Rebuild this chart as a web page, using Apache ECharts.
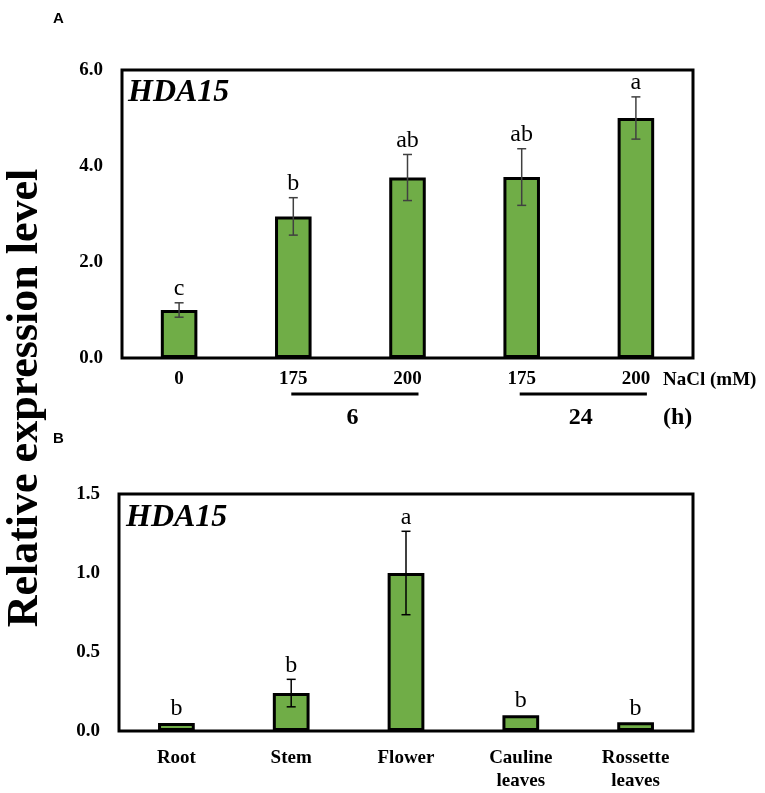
<!DOCTYPE html>
<html><head><meta charset="utf-8">
<script src="https://cdn.jsdelivr.net/npm/echarts@6/dist/echarts.min.js"></script>
<style>html,body{margin:0;padding:0;background:#fff}#c{width:765px;height:793px}</style>
</head><body><div id="c"></div>
<script>
// ---- data ----
const concLabels = ['0', '175', '200', '175', '200'];
const valuesA = [1.0, 2.95, 3.76, 3.77, 5.0];
const errA = [0.15, 0.39, 0.48, 0.59, 0.44];
const lettersA = ['c', 'b', 'ab', 'ab', 'a'];
const hourGroups = [{label: '6', from: 1, to: 2}, {label: '24', from: 3, to: 4}];
const tissues = ['Root', 'Stem', 'Flower', 'Cauline\nleaves', 'Rossette\nleaves'];
const valuesB = [0.05, 0.24, 1.0, 0.10, 0.055];
const errB = [0, 0.087, 0.264, 0, 0];
const lettersB = ['b', 'b', 'a', 'b', 'b'];
const yTicksA = {min: 0, max: 6, interval: 2};
const yTicksB = {min: 0, max: 1.5, interval: 0.5};

const SERIF = '"Liberation Serif","Times New Roman",serif';
const GREEN = '#70AD47';

function errRender(color) {
  return function (params, api) {
    const i = api.value(0), v = api.value(1), e = api.value(2);
    if (!(e > 0)) return {type: 'group', children: []};
    const t = api.coord([i, v + e]), b = api.coord([i, v - e]);
    const st = {stroke: color, lineWidth: 1.5};
    return {type: 'group', children: [
      {type: 'line', shape: {x1: t[0], y1: t[1], x2: b[0], y2: b[1]}, style: st},
      {type: 'line', shape: {x1: t[0] - 4.5, y1: t[1], x2: t[0] + 4.5, y2: t[1]}, style: st},
      {type: 'line', shape: {x1: b[0] - 4.5, y1: b[1], x2: b[0] + 4.5, y2: b[1]}, style: st}
    ]};
  };
}
function letterRender(letters) {
  return function (params, api) {
    const i = api.value(0), v = api.value(1), e = api.value(2);
    const p = api.coord([i, v + e]);
    return {type: 'text', x: p[0], y: p[1] - 2, style: {
      text: letters[params.dataIndex], fill: '#000', font: '24px ' + SERIF,
      textAlign: 'center', textVerticalAlign: 'bottom'}};
  };
}

const chart = echarts.init(document.getElementById('c'));
const yAxisCommon = {
  type: 'value', axisLine: {show: false}, axisTick: {show: false}, splitLine: {show: false},
  axisLabel: {color: '#000', fontFamily: SERIF, fontWeight: 'bold', fontSize: 19, margin: 19,
    formatter: v => v.toFixed(1)}
};
const xAxisCommon = {
  type: 'category', axisLine: {show: false}, axisTick: {show: false}, splitLine: {show: false}
};

chart.setOption({
  animation: false,
  backgroundColor: '#fff',
  grid: [
    {left: 122, right: 72, top: 70, bottom: 435, show: true, borderColor: '#000', borderWidth: 3},
    {left: 119, right: 72, top: 494, bottom: 57, show: true, borderColor: '#000', borderWidth: 3}
  ],
  xAxis: [
    Object.assign({}, xAxisCommon, {gridIndex: 0, data: concLabels,
      axisLabel: {color: '#000', fontFamily: SERIF, fontWeight: 'bold', fontSize: 19, margin: 12, interval: 0}}),
    Object.assign({}, xAxisCommon, {gridIndex: 1, data: tissues,
      axisLabel: {color: '#000', fontFamily: SERIF, fontWeight: 'bold', fontSize: 19, margin: 16, interval: 0, lineHeight: 23}})
  ],
  yAxis: [
    Object.assign({}, yAxisCommon, {gridIndex: 0}, yTicksA),
    Object.assign({}, yAxisCommon, {gridIndex: 1}, yTicksB)
  ],
  series: [
    {type: 'bar', xAxisIndex: 0, yAxisIndex: 0, data: valuesA, barWidth: '32%',
      itemStyle: {color: GREEN, borderColor: '#000', borderWidth: 3}},
    {type: 'custom', xAxisIndex: 0, yAxisIndex: 0, renderItem: errRender('#404040'),
      data: valuesA.map((v, i) => [i, v, errA[i]]), z: 5},
    {type: 'custom', xAxisIndex: 0, yAxisIndex: 0, renderItem: letterRender(lettersA),
      data: valuesA.map((v, i) => [i, v, errA[i]]), z: 5},
    {type: 'custom', xAxisIndex: 0, yAxisIndex: 0, clip: false,
      renderItem: function (params, api) {
        const g = hourGroups[params.dataIndex];
        const p1 = api.coord([g.from, 0]), p2 = api.coord([g.to, 0]);
        const y = p1[1] + 36;
        return {type: 'group', children: [
          {type: 'line', shape: {x1: p1[0] - 2, y1: y, x2: p2[0] + 11, y2: y}, style: {stroke: '#000', lineWidth: 3}},
          {type: 'text', x: (p1[0] + p2[0]) / 2 + 2, y: y + 24, style: {text: g.label, fill: '#000',
            font: 'bold 24px ' + SERIF, textAlign: 'center', textVerticalAlign: 'middle'}}
        ]};
      },
      data: hourGroups.map(g => [g.from, 0, g.to])},
    {type: 'bar', xAxisIndex: 1, yAxisIndex: 1, data: valuesB, barWidth: '32%',
      itemStyle: {color: GREEN, borderColor: '#000', borderWidth: 3}},
    {type: 'custom', xAxisIndex: 1, yAxisIndex: 1, renderItem: errRender('#000'),
      data: valuesB.map((v, i) => [i, v, errB[i]]), z: 5},
    {type: 'custom', xAxisIndex: 1, yAxisIndex: 1, renderItem: letterRender(lettersB),
      data: valuesB.map((v, i) => [i, v, errB[i]]), z: 5}
  ],
  graphic: [
    {type: 'text', left: 53, top: 11, style: {text: 'A', fill: '#000', font: 'bold 15px "Liberation Sans",Arial,sans-serif'}},
    {type: 'text', left: 53, top: 431, style: {text: 'B', fill: '#000', font: 'bold 15px "Liberation Sans",Arial,sans-serif'}},
    {type: 'text', x: 26, y: 398, rotation: Math.PI / 2, style: {text: 'Relative expression level', fill: '#000',
      font: 'bold 44px ' + SERIF, textAlign: 'center', textVerticalAlign: 'middle'}},
    {type: 'text', x: 128, y: 93, style: {text: 'HDA15', fill: '#000', font: 'italic bold 32px ' + SERIF, textVerticalAlign: 'middle'}},
    {type: 'text', x: 126, y: 518, style: {text: 'HDA15', fill: '#000', font: 'italic bold 32px ' + SERIF, textVerticalAlign: 'middle'}},
    {type: 'text', x: 663, y: 380, style: {text: 'NaCl (mM)', fill: '#000', font: 'bold 19px ' + SERIF, textVerticalAlign: 'middle'}},
    {type: 'text', x: 663, y: 418, style: {text: '(h)', fill: '#000', font: 'bold 24px ' + SERIF, textVerticalAlign: 'middle'}}
  ]
});
</script></body></html>
